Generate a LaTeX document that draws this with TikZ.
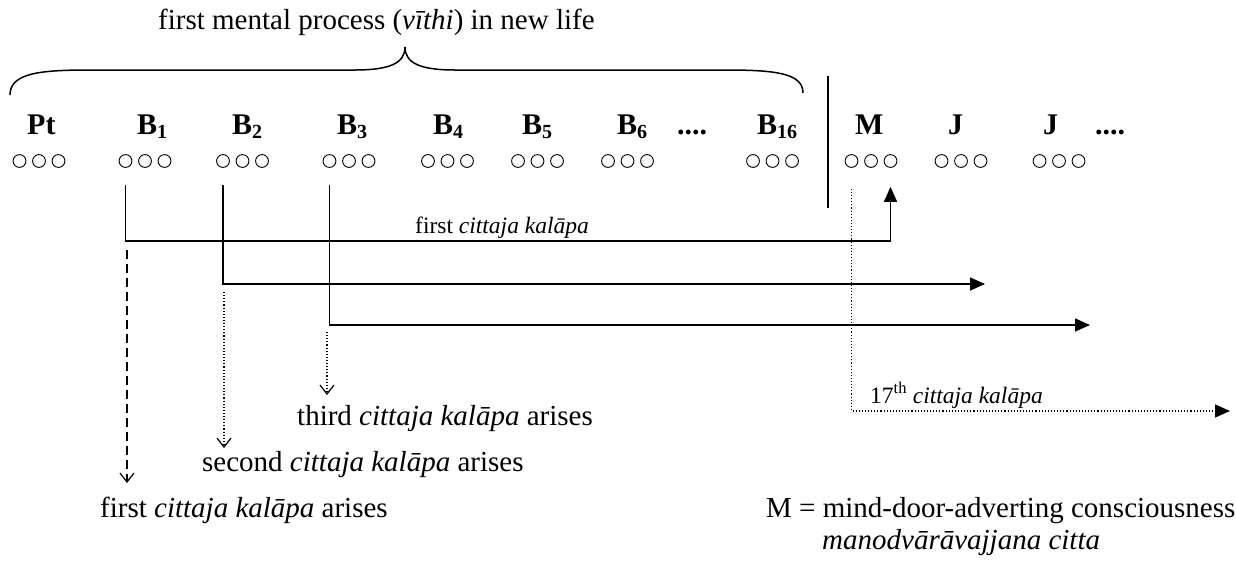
\documentclass[tikz,border=0pt]{standalone}
\usepackage{fontspec}
\setmainfont{Liberation Serif}
\usetikzlibrary{arrows.meta}
\newcommand\subdig[1]{\raisebox{-0.16em}{\fontsize{20}{20}\selectfont #1}}
\begin{document}
\begin{tikzpicture}[x=1pt,y=-1pt,
  lbl/.style={inner sep=0pt, anchor=base west, font=\fontsize{30}{36}\selectfont\bfseries},
  txt/.style={inner sep=0pt, anchor=base west, font=\fontsize{29}{33}\selectfont},
  smalltxt/.style={inner sep=0pt, anchor=base west, font=\fontsize{23.5}{27}\selectfont},
  ringdot/.style={circle, draw, minimum size=12.8pt, inner sep=0pt, line width=0.9pt},
  solidarrow/.style={line width=1.6pt, -{Triangle[length=15pt,width=13pt]}},
  dotarrow/.style={line width=1.1pt, dash pattern=on 1.1pt off 2pt, -{Triangle[length=15pt,width=13pt]}},
  dasharrow/.style={line width=1.3pt, dash pattern=on 9pt off 5pt, -{Straight Barb[length=9pt,width=14pt,line width=1.2pt]}},
  dottdown/.style={line width=1.1pt, dash pattern=on 1.1pt off 2pt, -{Straight Barb[length=9pt,width=14pt,line width=1.2pt]}},
  bracepath/.style={line width=1.5pt},
  divider/.style={line width=1.6pt}]
\useasboundingbox (0,0) rectangle (1236,563);

% title and brace
\node[txt] (title) at (158,29) {first mental process (\textit{vīthi}) in new life};
\draw[bracepath] (10,95) .. controls (10,73) and (40,70) .. (90,70) -- (355,70)
  .. controls (390,70) and (405,63) .. (405,47)
  .. controls (405,63) and (420,70) .. (455,70) -- (725,70)
  .. controls (775,70) and (803,73) .. (803,93);

% labels
\node[lbl] (lPt) at (27,134) {Pt};
\node[lbl] (lB1) at (137,134) {B\subdig{1}};
\node[lbl] (lB2) at (232,134) {B\subdig{2}};
\node[lbl] (lB3) at (337,134) {B\subdig{3}};
\node[lbl] (lB4) at (433,134) {B\subdig{4}};
\node[lbl] (lB5) at (522,134) {B\subdig{5}};
\node[lbl] (lB6) at (617,134) {B\subdig{6}};
\node[lbl] (ldotsA) at (677,134) {....};
\node[lbl] (lB16) at (757,134) {B\subdig{16}};
\node[lbl] (lM) at (855,134) {M};
\node[lbl] (lJ1) at (948,134) {J};
\node[lbl] (lJ2) at (1043,134) {J};
\node[lbl] (ldotsB) at (1095,134) {....};

% circle groups
\foreach \n/\x in {Pt/39, B1/145, B2/242.5, B3/349, B4/447.5, B5/537.5, B6/627.5, B16/772.5, M/871, J1/961, J2/1059}{
  \foreach \k in {1,2,3}{
    \node[ringdot] (\n-\k) at ({\x+(\k-2)*19.5},161) {};
  }
}

% divider
\draw[divider] (828,76) -- (828,208);

% solid arrows
\coordinate (s1) at ([yshift=-17pt]B1-1.south);
\coordinate (s2) at ([yshift=-17pt]B2-1.south);
\coordinate (s3) at ([yshift=-17pt]B3-1.south);
\coordinate (tipM) at ([yshift=-19pt]M-3.south);
\coordinate (h1) at (0,241);
\coordinate (e2) at (985,284);
\coordinate (e3) at (1090,325);
\draw[solidarrow] (s1) |- (tipM |- h1) -- (tipM);
\draw[solidarrow] (s2) |- (e2);
\draw[solidarrow] (s3) |- (e3);
\node[smalltxt] (fc) at (415,233) {first \textit{cittaja kalāpa}};

% texts below
\node[txt] (t1) at (100,517) {first \textit{cittaja kalāpa} arises};
\node[txt] (t2) at (202,471) {second \textit{cittaja kalāpa} arises};
\node[txt] (t3) at (297,425) {third \textit{cittaja kalāpa} arises};

% down arrows
\coordinate (d1a) at (127,250);
\coordinate (d1b) at (127,483);
\coordinate (d2a) at (224,292);
\coordinate (d2b) at (224,448);
\coordinate (d3a) at (327,332);
\coordinate (d3b) at (327,395);
\draw[dasharrow] (d1a) -- (d1b);
\draw[dottdown] (d2a) -- (d2b);
\draw[dottdown] (d3a) -- (d3b);

% 17th arrow
\coordinate (m0) at ([yshift=-21pt]M-1.south);
\coordinate (e17) at (1230,411);
\draw[dotarrow] (m0) |- (e17);
\node[smalltxt] (l17) at (870,403) {17\textsuperscript{th} \textit{cittaja kalāpa}};

% legend
\node[txt] (leg1) at (766,517) {M = mind-door-adverting consciousness};
\node[txt] (leg2) at (822,549) {\textit{manodvārāvajjana citta}};
\end{tikzpicture}
\end{document}
